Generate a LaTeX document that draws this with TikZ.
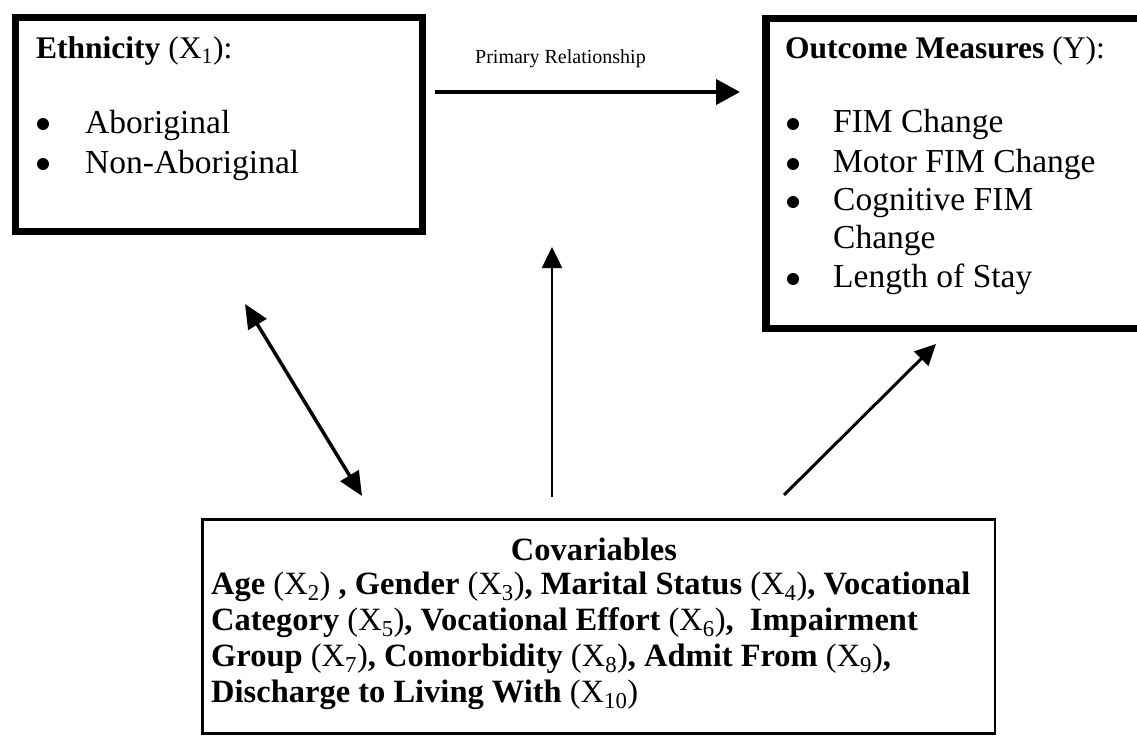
\documentclass[tikz,border=0pt]{standalone}
\usepackage{fontspec}
\setmainfont{Liberation Serif}
\usetikzlibrary{arrows.meta}
\newcommand\fsz[1]{\fontsize{#1pt}{#1pt}\selectfont}
\newcommand\xs[1]{(X\textsubscript{#1})}
\begin{document}
\begin{tikzpicture}[x=1pt,y=-1pt,
  txt/.style={inner sep=0pt, anchor=base west},
  ttl/.style={txt, font=\fsz{31.5}},
  item/.style={txt, font=\fsz{33.5}},
  bul/.style={circle, fill=black, inner sep=0pt, minimum size=12pt},
  cov/.style={txt, font=\fsz{32.5}},
  bigbox/.style={draw, rectangle, inner sep=0pt, anchor=north west},
  conn/.style={-{Triangle[length=21pt,width=20pt]}, line width=3pt},
]
\useasboundingbox (0,0) rectangle (1137,736);
\fill[white] (0,0) rectangle (1137,736);

% boxes
\node[bigbox, line width=7pt, minimum width=407pt, minimum height=214pt] (eth) at (11.5,13.5) {};
\node[bigbox, line width=7.5pt, minimum width=390pt, minimum height=310pt] (out) at (762,14.5) {};
\node[bigbox, line width=2.5pt, minimum width=792.5pt, minimum height=214pt] (cov) at (201.25,518.25) {};

% Ethnicity text
\node[ttl] (ethT) at (36,58) {\textbf{Ethnicity} \xs{1}:};
\node[bul] (eb1) at (43,124) {};
\node[item] (ei1) at (85,133) {Aboriginal};
\node[bul] (eb2) at (43,164) {};
\node[item] (ei2) at (85,173) {Non-Aboriginal};

% Outcome text
\node[ttl] (outT) at (785,58) {\textbf{Outcome Measures} (Y):};
\node[bul] (ob1) at (793,124) {};
\node[item] (oi1) at (833,132) {FIM Change};
\node[bul] (ob2) at (793,164) {};
\node[item] (oi2) at (833,172) {Motor FIM Change};
\node[bul] (ob3) at (793,202) {};
\node[item] (oi3) at (833,210) {Cognitive FIM};
\node[item] (oi3b) at (833,248) {Change};
\node[bul] (ob4) at (793,279) {};
\node[item] (oi4) at (833,287) {Length of Stay};

% Covariables text
\node[inner sep=0pt, anchor=base, font=\fsz{32.5}] (covT) at (594,560) {\textbf{Covariables}};
\node[cov] (c1) at (211,594) {\textbf{Age} \xs{2} \textbf{, Gender} \xs{3}\textbf{, Marital Status} \xs{4}\textbf{, Vocational}};
\node[cov] (c2) at (211,630) {\textbf{Category} \xs{5}\textbf{, Vocational Effort} \xs{6}\textbf{,\ \ Impairment}};
\node[cov] (c3) at (211,666) {\textbf{Group} \xs{7}\textbf{, Comorbidity} \xs{8}\textbf{, Admit From} \xs{9}\textbf{,}};
\node[cov] (c4) at (211,702) {\textbf{Discharge to Living With} \xs{10}};

% primary relationship
\node[txt, font=\fsz{20}] (prl) at (475,63) {Primary Relationship};
\coordinate (pa) at (435,92);
\coordinate (pb) at (740,92);
\draw[-{Triangle[length=24pt,width=25pt]}, line width=4pt] (pa) -- (pb);

% other connectors
\coordinate (da) at (245,304);
\coordinate (db) at (362,496);
\draw[{Triangle[length=24pt,width=21pt]}-{Triangle[length=24pt,width=21pt]}, line width=3.5pt] (da) -- (db);

\coordinate (va) at (552,497);
\coordinate (vb) at (552,247);
\draw[conn, line width=2.5pt] (va) -- (vb);

\coordinate (ra) at (784,495);
\coordinate (rb) at (936,344);
\draw[conn] (ra) -- (rb);
\end{tikzpicture}
\end{document}
